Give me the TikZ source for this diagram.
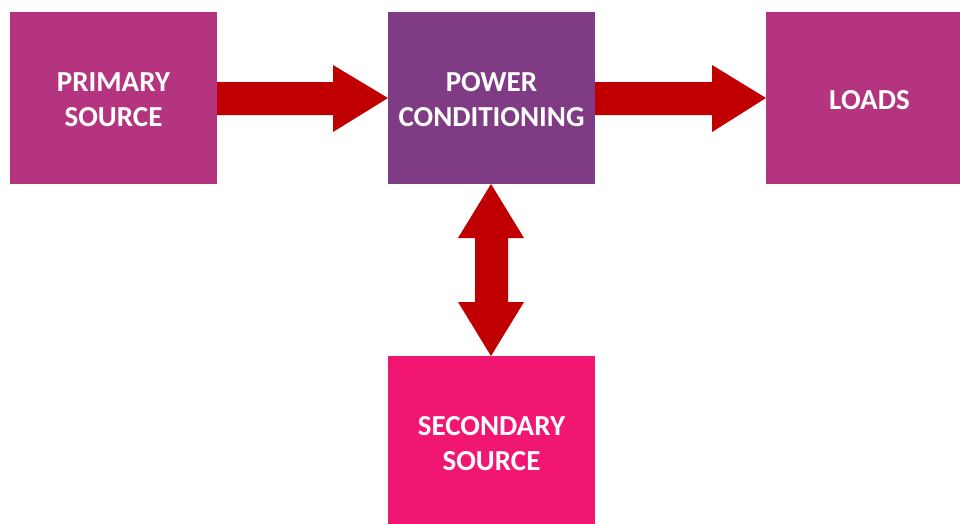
\documentclass[tikz,border=0pt]{standalone}
\usepackage{fontspec}
\setmainfont{Carlito}
\definecolor{primcol}{HTML}{B5347F}
\definecolor{powcol}{HTML}{7F3B83}
\definecolor{seccol}{HTML}{F01672}
\definecolor{arrcol}{HTML}{C00000}
\begin{document}
\begin{tikzpicture}[x=1pt,y=-1pt,
  box/.style={anchor=north west,minimum width=207pt,minimum height=172pt,inner sep=0pt,outer sep=0pt},
  lbl/.style={text=white,font=\fontsize{29}{35}\selectfont\bfseries,align=center,inner sep=0pt,yshift=-2pt},
  fatarrow/.style={fill=arrcol,draw=none}]
\useasboundingbox (0,0) rectangle (960,523);
\clip (0,0) rectangle (960,523);
\node[box,fill=primcol] (prim) at (10,12) {};
\node[box,fill=powcol] (pow) at (388,12) {};
\node[box,fill=primcol] (load) at (766,12) {};
\node[box,fill=seccol] (sec) at (388,356) {};
\node[lbl] (primtxt) at (prim.center) {PRIMARY\\SOURCE};
\node[lbl] (powtxt) at (pow.center) {POWER\\CONDITIONING};
\node[lbl] (loadtxt) at (load.center) {LOADS};
\node[lbl] (sectxt) at (sec.center) {SECONDARY\\SOURCE};
% arrow primary -> power
\fill[fatarrow] (prim.east |- 0,82) -- (333,82) -- (333,65) -- (pow.west |- 0,98) -- (333,132) -- (333,115) -- (prim.east |- 0,115) -- cycle;
% arrow power -> loads
\fill[fatarrow] (pow.east |- 0,82) -- (712,82) -- (712,65) -- (load.west |- 0,98) -- (712,132) -- (712,115) -- (pow.east |- 0,115) -- cycle;
% double arrow power <-> secondary
\fill[fatarrow] (491,0 |- pow.south) -- (524,238) -- (508,238) -- (508,302) -- (524,302) -- (491,0 |- sec.north) -- (458,302) -- (475,302) -- (475,238) -- (458,238) -- cycle;
\end{tikzpicture}
\end{document}
